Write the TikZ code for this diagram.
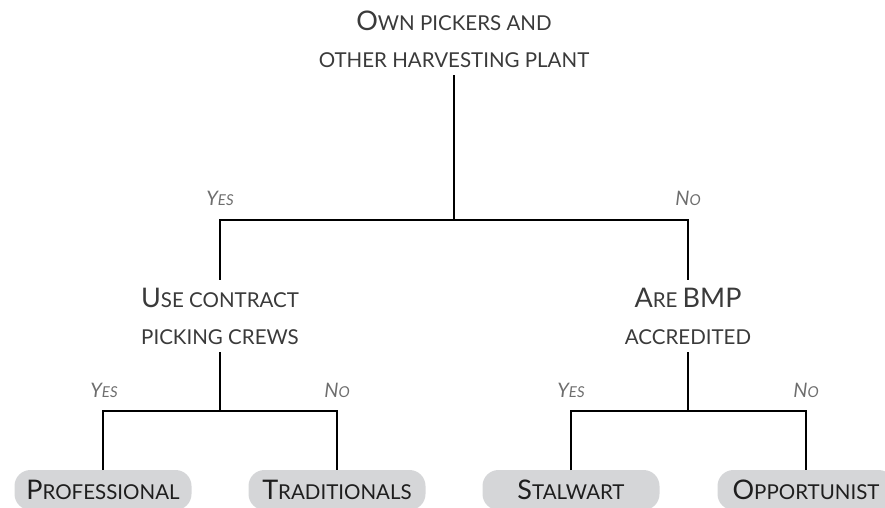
\documentclass[tikz,border=0pt]{standalone}
\usepackage{fontspec}
\setmainfont{Lato}
\usetikzlibrary{positioning}

\definecolor{qgray}{HTML}{3A3A3A}
\definecolor{agray}{HTML}{6E6E6E}
\definecolor{leafgray}{HTML}{D5D6D8}
\definecolor{leaftext}{HTML}{1E1E1E}

% fake small caps: big initial, small rest
\newcommand{\bigsc}[2]{{\fontsize{27}{37}\selectfont #1}{\fontsize{20.5}{37}\selectfont #2}}
\newcommand{\smallsc}[2]{{\fontsize{20}{24}\selectfont\itshape #1}{\fontsize{15}{24}\selectfont\itshape #2}}

\tikzset{
  question/.style={align=center, text=qgray, inner sep=0pt, outer xsep=0pt, outer ysep=8pt,
    font=\fontsize{20.5}{37}\selectfont},
  answer/.style={text=agray, inner sep=0pt, anchor=base},
  leaf/.style={fill=leafgray, text=leaftext, rounded corners=16pt, minimum width=177pt,
    minimum height=40pt, inner sep=0pt, outer sep=0pt, anchor=north},
  branch/.style={line width=2.8pt, line join=miter, line cap=butt},
}

\begin{document}
\begin{tikzpicture}[x=1pt, y=-1pt]
    \useasboundingbox (0,0) rectangle (885,508);

    \coordinate (rootfork) at (454,220);
    \coordinate (contractfork) at (220,411);
    \coordinate (bmpfork) at (688,411);

    \node[question] (root) at (454,39) {\bigsc{O}{WN PICKERS AND}\\ \bigsc{}{OTHER HARVESTING PLANT}};
    \node[question] (contract) at (220,316) {\bigsc{U}{SE CONTRACT}\\ \bigsc{}{PICKING CREWS}};
    \node[question] (bmp) at (688,316) {\bigsc{A}{RE}\ \bigsc{BMP}{}\\ \bigsc{}{ACCREDITED}};

    \node[answer] (yesroot) at (220,205) {\smallsc{Y}{ES}};
    \node[answer] (noroot) at (688,205) {\smallsc{N}{O}};
    \node[answer] (yescontract) at (104,397) {\smallsc{Y}{ES}};
    \node[answer] (nocontract) at (337,397) {\smallsc{N}{O}};
    \node[answer] (yesbmp) at (571,397) {\smallsc{Y}{ES}};
    \node[answer] (nobmp) at (806,397) {\smallsc{N}{O}};

    \node[leaf] (professional) at (103,470) {\bigsc{P}{ROFESSIONAL}};
    \node[leaf] (traditionals) at (337,470) {\bigsc{T}{RADITIONALS}};
    \node[leaf] (stalwart) at (571,470) {\bigsc{S}{TALWART}};
    \node[leaf] (opportunist) at (806,470) {\bigsc{O}{PPORTUNIST}};

    \path[draw, branch] (root.south) -- (rootfork);
    \path[draw, branch] (contract.north) |- (rootfork) -| (bmp.north);

    \path[draw, branch] (contract.south) -- (contractfork);
    \path[draw, branch] (professional.north) |- (contractfork) -| (traditionals.north);

    \path[draw, branch] (bmp.south) -- (bmpfork);
    \path[draw, branch] (stalwart.north) |- (bmpfork) -| (opportunist.north);
\end{tikzpicture}
\end{document}
